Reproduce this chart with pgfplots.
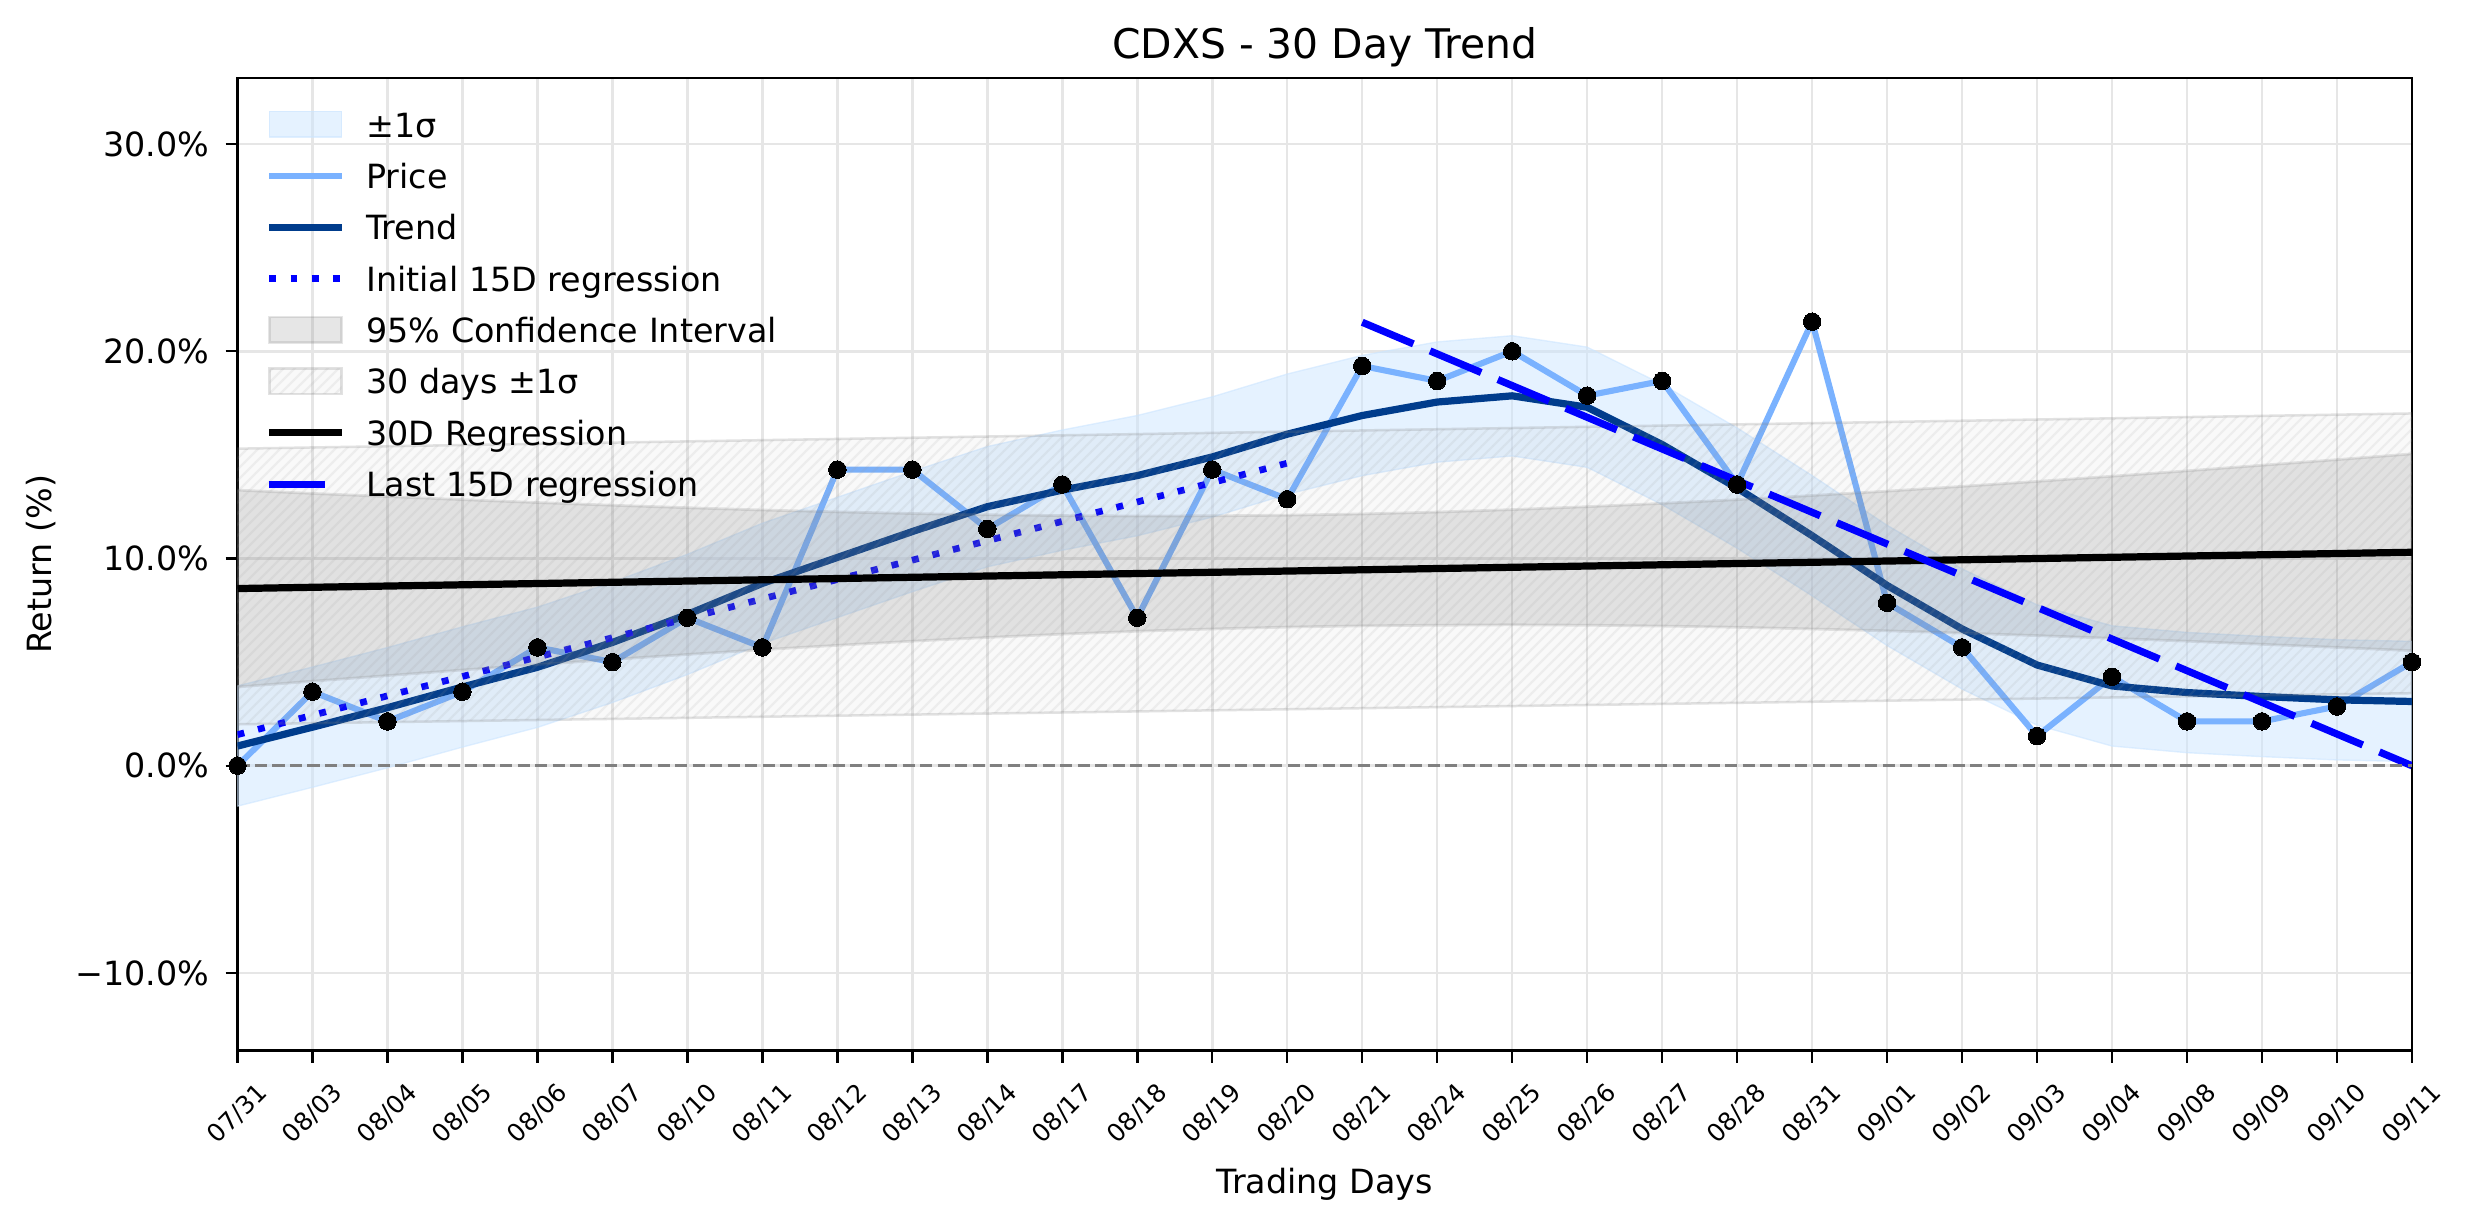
\documentclass[border=0pt]{standalone}
\usepackage{fontspec}
\setmainfont{DejaVu Sans}
\usepackage{pgfplots}
\usepackage{pgfplotstable}
\pgfplotsset{compat=1.18}
\usetikzlibrary{patterns.meta}
\definecolor{sigcol}{RGB}{204,229,255}
\definecolor{pricecol}{RGB}{122,178,255}
\definecolor{trendcol}{RGB}{0,60,140}
\definecolor{gridcol}{RGB}{230,230,230}
\definecolor{hatchcol}{RGB}{155,155,155}
\definecolor{zerocol}{RGB}{128,128,128}
\pgfplotsset{
  linelegend/.style={legend image code/.code={\draw[##1] (0pt,0pt) -- (26pt,0pt);}},
  arealegend/.style={legend image code/.code={\draw[##1] (0pt,-4.5pt) rectangle (26pt,4.7pt);}},
}

\pgfplotstableread{
i price trend
0 0.00 0.95
1 3.57 1.86
2 2.14 2.80
3 3.57 3.80
4 5.71 4.75
5 5.00 5.95
6 7.14 7.30
7 5.71 8.80
8 14.29 10.05
9 14.29 11.30
10 11.43 12.50
11 13.57 13.30
12 7.14 14.00
13 14.29 14.90
14 12.86 16.00
15 19.29 16.90
16 18.57 17.55
17 20.00 17.85
18 17.86 17.30
19 18.57 15.50
20 13.57 13.40
21 21.43 11.10
22 7.86 8.70
23 5.71 6.60
24 1.43 4.86
25 4.29 3.85
26 2.14 3.53
27 2.14 3.34
28 2.86 3.18
29 5.00 3.10
}\datatable

\begin{document}
\begin{tikzpicture}
\useasboundingbox (-85.5pt,-62.4pt) rectangle (805.14pt,378.24pt);
\begin{axis}[
  at={(0,0)}, anchor=south west,
  scale only axis, width=782.8pt, height=350.1pt,
  xmin=0, xmax=29, ymin=-13.75, ymax=33.18,
  axis line style={black, line width=0.88pt},
  tick align=outside,
  xtick pos=bottom, ytick pos=left,
  major tick length=4.3pt,
  tick style={black, line width=0.88pt},
  xtick={0,...,29},
  xticklabels={07/31,08/03,08/04,08/05,08/06,08/07,08/10,08/11,08/12,08/13,08/14,08/17,08/18,08/19,08/20,08/21,08/24,08/25,08/26,08/27,08/28,08/31,09/01,09/02,09/03,09/04,09/08,09/09,09/10,09/11},
  ytick={-10,0,10,20,30},
  yticklabels={−10.0\%,0.0\%,10.0\%,20.0\%,30.0\%},
  xticklabel style={font=\fontsize{8.9}{10}\selectfont, yshift=-18.5pt, rotate=45, anchor=center, inner sep=0pt},
  yticklabel style={font=\fontsize{12}{14}\selectfont, anchor=east, inner sep=0pt, xshift=-5.6pt},
  grid=major,
  major grid style={gridcol, line width=0.9pt},
  title={CDXS - 30 Day Trend},
  every axis title/.style={at={(axis description cs:0.5,1.02057)}, anchor=base, font=\fontsize{14.7}{17}\selectfont, inner sep=0pt},
  xlabel={Trading Days},
  every axis x label/.style={at={(axis description cs:0.5,-0.14653)}, anchor=base, font=\fontsize{12}{14}\selectfont, inner sep=0pt},
  ylabel={Return (\%)},
  every axis y label/.style={at={(axis description cs:-0.08546,0.5)}, rotate=90, anchor=base, font=\fontsize{12}{14}\selectfont, inner sep=0pt},
  legend cell align=left,
  legend style={at={(axis description cs:0,1)}, anchor=north west, xshift=10.2pt, yshift=-10.2pt,
    draw=none, fill=none, inner sep=0pt, outer sep=0pt, row sep=5.5pt, column sep=7.6pt,
    font=\fontsize{12}{14}\selectfont,
    nodes={inner sep=0pt, text height=11pt, text depth=2pt}},
  linelegend,
]
% +-1 sigma band
\addplot[fill=sigcol, fill opacity=0.5, draw=sigcol, draw opacity=0.6, line width=0.5pt, arealegend]
coordinates {(0,3.85) (1,4.76) (2,5.70) (3,6.70) (4,7.65) (5,8.85) (6,10.20) (7,11.70) (8,12.95) (9,14.20) (10,15.40) (11,16.20) (12,16.90) (13,17.80) (14,18.90) (15,19.80) (16,20.45) (17,20.75) (18,20.20) (19,18.40) (20,16.30) (21,14.00) (22,11.60) (23,9.50) (24,7.76) (25,6.75) (26,6.43) (27,6.24) (28,6.08) (29,6.00)
(29,0.20) (28,0.28) (27,0.44) (26,0.63) (25,0.95) (24,1.96) (23,3.70) (22,5.80) (21,8.20) (20,10.50) (19,12.60) (18,14.40) (17,14.95) (16,14.65) (15,14.00) (14,13.10) (13,12.00) (12,11.10) (11,10.40) (10,9.60) (9,8.40) (8,7.15) (7,5.90) (6,4.40) (5,3.05) (4,1.85) (3,0.90) (2,-0.10) (1,-1.04) (0,-1.95)} -- cycle;
\addlegendentry{±1σ}
% price
\addplot[pricecol, line width=2.2pt, line join=round, no marks] table[x=i, y=price]{\datatable};
\addlegendentry{Price}
% trend
\addplot[trendcol, line width=2.6pt, line join=round, no marks] table[x=i, y=trend]{\datatable};
\addlegendentry{Trend}
% initial 15D regression
\addplot[blue, line width=2.4pt, dash pattern=on 2.5pt off 5.1pt, no marks] coordinates {(0,1.50) (14,14.60)};
\addlegendentry{Initial 15D regression}
% 95% CI
\addplot[fill=zerocol, fill opacity=0.2, draw=zerocol, draw opacity=0.2, line width=1pt, arealegend]
coordinates {(0,13.30) (1,13.14) (2,12.99) (3,12.84) (4,12.70) (5,12.57) (6,12.45) (7,12.34) (8,12.25) (9,12.17) (10,12.11) (11,12.07) (12,12.05) (13,12.06) (14,12.09) (15,12.15) (16,12.24) (17,12.36) (18,12.50) (19,12.66) (20,12.84) (21,13.04) (22,13.25) (23,13.48) (24,13.72) (25,13.97) (26,14.23) (27,14.50) (28,14.77) (29,15.05)
(29,5.55) (28,5.71) (27,5.86) (26,6.01) (25,6.15) (24,6.28) (23,6.40) (22,6.51) (21,6.60) (20,6.68) (19,6.74) (18,6.78) (17,6.80) (16,6.78) (15,6.75) (14,6.69) (13,6.60) (12,6.49) (11,6.35) (10,6.19) (9,6.01) (8,5.81) (7,5.60) (6,5.37) (5,5.13) (4,4.88) (3,4.62) (2,4.35) (1,4.08) (0,3.80)} -- cycle;
\addlegendentry{95\% Confidence Interval}
% 30 days +-1 sigma (hatched)
\addplot[fill=zerocol, fill opacity=0.05, draw=zerocol, draw opacity=0.12, line width=0.9pt,
  postaction={fill opacity=1, pattern={Lines[angle=45,distance=2.8pt,line width=0.8pt]}, pattern color=hatchcol},
  arealegend]
coordinates {(0,15.30) (29,17.00) (29,3.50) (0,2.00)} -- cycle;
\addlegendentry{30 days ±1σ}
% 30D regression
\addplot[black, line width=2.6pt, no marks] coordinates {(0,8.55) (29,10.30)};
\addlegendentry{30D Regression}
% last 15D regression
\addplot[blue, line width=2.6pt, dash pattern=on 20pt off 6.5pt, no marks] coordinates {(15,21.40) (29,0.00)};
\addlegendentry{Last 15D regression}
% zero line
\addplot[zerocol, line width=1.1pt, dash pattern=on 4.4pt off 1.9pt, forget plot] coordinates {(0,0) (29,0)};
% points
\addplot[only marks, mark=*, mark size=3.15pt, mark options={fill=black, draw=black, line width=0pt}, forget plot] table[x=i, y=price]{\datatable};
\end{axis}
\end{tikzpicture}
\end{document}
